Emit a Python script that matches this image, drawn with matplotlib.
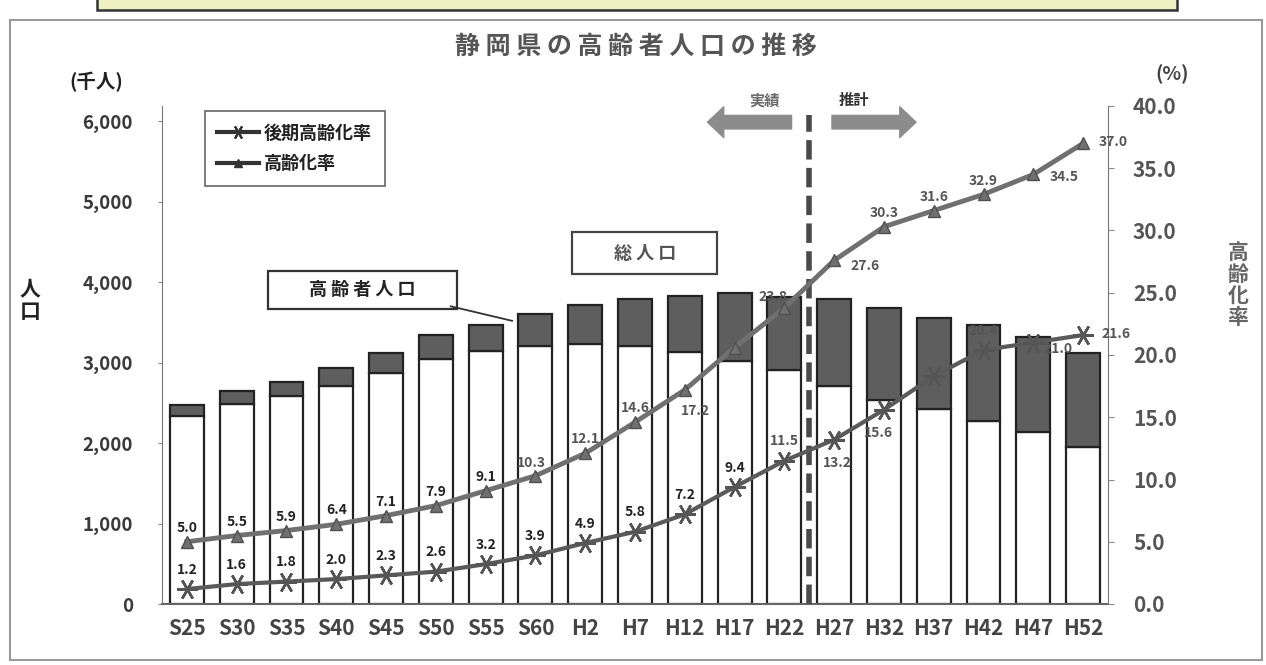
import numpy as np
import matplotlib.pyplot as plt
from matplotlib.patches import Rectangle, FancyArrowPatch
from matplotlib.lines import Line2D

plt.rcParams['font.family'] = ['Noto Sans CJK JP', 'DejaVu Sans']
plt.rcParams['font.weight'] = 'bold'

# --- data ---
years = ['S25', 'S30', 'S35', 'S40', 'S45', 'S50', 'S55', 'S60', 'H2', 'H7',
         'H12', 'H17', 'H22', 'H27', 'H32', 'H37', 'H42', 'H47', 'H52']
total_pop = [2470, 2650, 2756, 2935, 3115, 3345, 3472, 3608, 3720, 3795,
             3830, 3860, 3820, 3785, 3685, 3560, 3473, 3324, 3117]
elderly_pop = [135, 170, 166, 221, 248, 295, 331, 396, 483, 583,
               702, 835, 907, 1071, 1145, 1133, 1195, 1191, 1163]
aging_rate = [5.0, 5.5, 5.9, 6.4, 7.1, 7.9, 9.1, 10.3, 12.1, 14.6,
              17.2, 20.6, 23.8, 27.6, 30.3, 31.6, 32.9, 34.5, 37.0]
late_rate = [1.2, 1.6, 1.8, 2.0, 2.3, 2.6, 3.2, 3.9, 4.9, 5.8,
             7.2, 9.4, 11.5, 13.2, 15.6, 18.3, 20.4, 21.0, 21.6]

x = np.arange(len(years))
others = np.array(total_pop) - np.array(elderly_pop)

fig = plt.figure(figsize=(12.66, 6.65), dpi=100)

# outer frame and the bottom of the box above the chart
fig.patches.append(Rectangle((10 / 1266, 5 / 665), 1252 / 1266, 640 / 665,
                             transform=fig.transFigure, fill=False,
                             edgecolor='#9a9a9a', lw=1.5))
fig.patches.append(Rectangle((97 / 1266, 655 / 665), 1080 / 1266, 20 / 665,
                             transform=fig.transFigure, facecolor='#eef1c4',
                             edgecolor='#333333', lw=1.8))

ax = fig.add_axes([162 / 1266, 61 / 665, 946 / 1266, 498 / 665])
ax2 = ax.twinx()

# bars: others (white) + elderly (dark) on top
ax.bar(x, others, width=0.68, color='white', edgecolor='#222222', lw=1.6)
ax.bar(x, elderly_pop, bottom=others, width=0.68, color='#5e5e5e',
       edgecolor='#222222', lw=1.6)

ax.set_xlim(-0.5, len(years) - 0.5)
ax.set_ylim(0, 6190)
ax.set_yticks([0, 1000, 2000, 3000, 4000, 5000, 6000])
ax.set_yticklabels(['0', '1,000', '2,000', '3,000', '4,000', '5,000', '6,000'])
ax.set_xticks(x)
ax.set_xticklabels(years)
ax.tick_params(axis='y', labelsize=13.5, labelcolor='#3a3a3a', length=3,
               color='#888888', pad=18)
ax.tick_params(axis='x', labelsize=15, labelcolor='#444444', length=0, pad=10)
for s in ['top', 'right']:
    ax.spines[s].set_visible(False)
ax.spines['left'].set_color('#777777')
ax.spines['bottom'].set_color('#666666')
ax.spines['bottom'].set_linewidth(1.5)

# rate lines
ax2.set_ylim(0, 40)
ax2.set_yticks(np.arange(0, 41, 5))
ax2.set_yticklabels([f'{v:.1f}' for v in np.arange(0, 41, 5)])
ax2.tick_params(axis='y', labelsize=15, labelcolor='#555555', length=4,
                color='#888888', pad=14)
for s in ['top', 'left', 'bottom']:
    ax2.spines[s].set_visible(False)
ax2.spines['right'].set_color('#777777')

late_marker = (6, 2, 90)
ax2.plot(x, aging_rate, color='#707070', lw=3.5, marker='^', markersize=9,
         markerfacecolor='#707070', markeredgecolor='#505050', zorder=3)
ax2.plot(x, late_rate, color='#5a5a5a', lw=3, marker=late_marker,
         markersize=15, markeredgewidth=1.8, markeredgecolor='#555555', zorder=3)

# data labels
aging_off = {7: (-3, 9), 10: (8, -15), 12: (-8, 8), 13: (22, -4),
             17: (22, -2), 18: (22, 1)}
aging_skip = [11]
for i, v in enumerate(aging_rate):
    if i in aging_skip:
        continue
    dx, dy = aging_off.get(i, (0, 10))
    ax2.annotate(f'{v:.1f}', (x[i], v), xytext=(dx, dy),
                 textcoords='offset points', ha='center', va='center',
                 fontsize=10, color='#222222' if i < 7 else '#555555', zorder=4)

late_off = {13: (2, -17), 14: (-4, -17), 17: (18, -5), 18: (24, 1)}
late_skip = [15]
for i, v in enumerate(late_rate):
    if i in late_skip:
        continue
    dx, dy = late_off.get(i, (0, 14))
    ax2.annotate(f'{v:.1f}', (x[i], v), xytext=(dx, dy),
                 textcoords='offset points', ha='center', va='center',
                 fontsize=10, color='#222222' if i < 12 else '#555555', zorder=4)

# actual / projection divider
ax2.plot([12.5, 12.5], [0, 39.3], color='#4a4a4a', lw=4, ls=(0, (3.5, 1.5)),
         clip_on=False, zorder=2)
arr = 'simple,head_length=0.9,head_width=1.7,tail_width=0.75'
ax2.add_patch(FancyArrowPatch((12.2, 38.7), (10.4, 38.7), arrowstyle=arr,
                              mutation_scale=13, color='#8c8c8c', clip_on=False))
ax2.add_patch(FancyArrowPatch((12.9, 38.7), (14.7, 38.7), arrowstyle=arr,
                              mutation_scale=13, color='#8c8c8c', clip_on=False))
ax2.text(11.6, 40.4, '実績', ha='center', va='center', fontsize=11,
         color='#6a6a6a')
ax2.text(13.4, 40.5, '推計', ha='center', va='center', fontsize=11,
         color='#333333')

# callout boxes
ax.add_patch(Rectangle((7.73, 4096), 2.91, 522, fill=False,
                       edgecolor='#444444', lw=1.6, zorder=5))
ax.text(9.2, 4357, '総 人 口', ha='center', va='center', fontsize=13,
        color='#555555', zorder=5)
ax.add_patch(Rectangle((1.63, 3672), 3.79, 473, facecolor='white',
                       edgecolor='#333333', lw=1.6, zorder=5))
ax.text(3.52, 3909, '高 齢 者 人 口', ha='center', va='center', fontsize=13,
        color='#222222', zorder=5)
ax.plot([5.3, 6.53], [3700, 3520], color='#333333', lw=1.3, zorder=5)

# legend
handles = [Line2D([], [], color='#333333', lw=3, marker=late_marker,
                  markersize=10, markeredgewidth=1.5),
           Line2D([], [], color='#333333', lw=3, marker='^', markersize=6)]
leg = ax2.legend(handles, ['後期高齢化率', '高齢化率'], loc='upper left',
                 bbox_to_anchor=(0.045, 0.99), borderaxespad=0,
                 fancybox=False, framealpha=1, edgecolor='#666666',
                 prop={'size': 13, 'weight': 'bold'}, handlelength=2.3,
                 handletextpad=0.3, borderpad=0.7, labelspacing=0.65)
leg.get_frame().set_linewidth(1.2)
for t in leg.get_texts():
    t.set_color('#222222')

# titles and axis captions
fig.text(0.502, 0.93, '静 岡 県 の 高 齢 者 人 口 の 推 移', ha='center',
         va='center', fontsize=18, color='#555555')
fig.text(96 / 1266, 1 - 82 / 665, '(千人)', ha='center', va='center',
         fontsize=14, color='#222222')
fig.text(1172 / 1266, 1 - 74 / 665, '(%)', ha='center', va='center',
         fontsize=14, color='#444444')
fig.text(30 / 1266, 1 - 300 / 665, '人\n口', ha='center', va='center',
         fontsize=15, color='#222222', linespacing=1.1)
fig.text(1238 / 1266, 1 - 285 / 665, '高\n齢\n化\n率', ha='center',
         va='center', fontsize=15, color='#666666', linespacing=1.05)

fig.savefig('out.png', dpi=100, facecolor='white')
